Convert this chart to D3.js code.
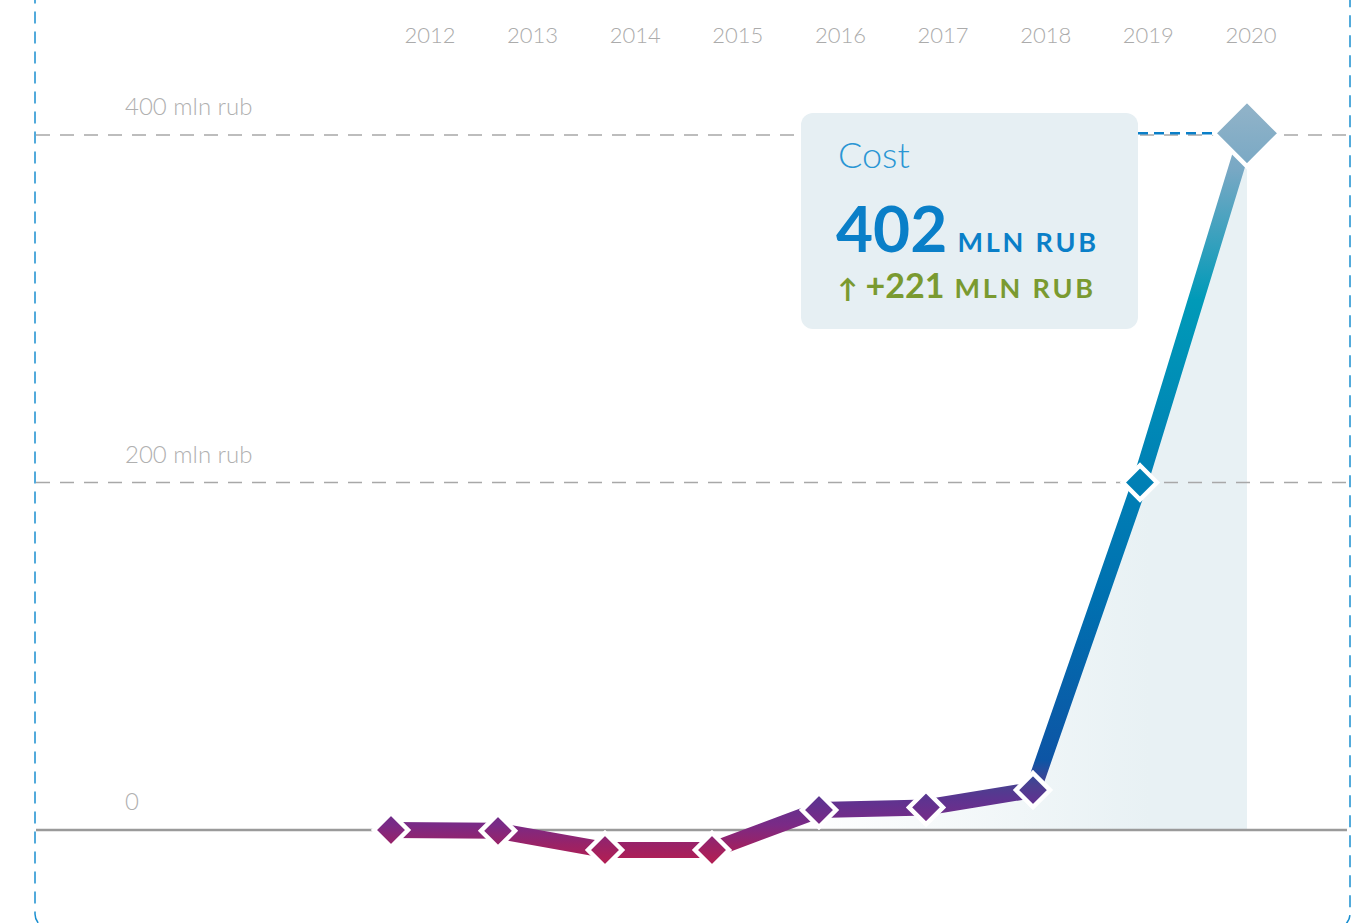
<!DOCTYPE html>
<html>
<head>
<meta charset="utf-8">
<script src="https://cdn.jsdelivr.net/npm/d3@7"></script>
<style>
  html, body { margin: 0; padding: 0; background: #ffffff; }
  svg { display: block; font-family: Lato, "Open Sans", sans-serif; }
</style>
</head>
<body>
<div id="chart"></div>
<script>
// values, mln rub
const years = [2012, 2013, 2014, 2015, 2016, 2017, 2018, 2019, 2020];
const costs = [0, -0.5, -11.5, -11.5, 11.5, 13, 23, 200, 401];
const yTicks = [0, 200, 400];
const yTickLabels = ["0", "200 mln rub", "400 mln rub"];
const tipTitle = "Cost";
const tipValue = "402";
const tipDelta = "+221";
const tipUnit = "MLN RUB";

const W = 1353, H = 923;

const svg = d3.select("#chart").append("svg")
    .attr("width", W)
    .attr("height", H);

const defs = svg.append("defs");

// scales
const x = d3.scaleLinear().domain([2012, 2020]).range([391, 1247]);
const xLabel = d3.scalePoint().domain(years).range([430, 1251]);
const y = d3.scaleLinear().domain([0, 400]).range([830, 135]);

// vertical gradient used by line + markers
const lineGrad = defs.append("linearGradient")
    .attr("id", "lineGrad")
    .attr("gradientUnits", "userSpaceOnUse")
    .attr("x1", 0).attr("x2", 0)
    .attr("y1", 860).attr("y2", 110);
[
    [0, "#b01f55"], [0.02, "#9a2266"], [0.047, "#7a2a86"], [0.08, "#5e3390"],
    [0.1, "#4a4090"], [0.133, "#0d55a5"], [0.347, "#0070b0"], [0.507, "#0080b5"],
    [0.747, "#009ab8"], [0.92, "#78a8c4"], [1, "#8fb2c8"]
].forEach(s => lineGrad.append("stop").attr("offset", s[0]).attr("stop-color", s[1]));

// horizontal fade for the area
const areaGrad = defs.append("linearGradient")
    .attr("id", "areaGrad")
    .attr("gradientUnits", "userSpaceOnUse")
    .attr("x1", 780).attr("x2", 1150)
    .attr("y1", 0).attr("y2", 0);
areaGrad.append("stop").attr("offset", 0).attr("stop-color", "#e8f1f4").attr("stop-opacity", 0);
areaGrad.append("stop").attr("offset", 1).attr("stop-color", "#e8f1f4").attr("stop-opacity", 1);

const data = years.map((yr, i) => ({year: yr, value: costs[i]}));

// outer frame (blue dashed, rounded bottom corners)
svg.append("rect")
    .attr("x", 35).attr("y", -30)
    .attr("width", 1315).attr("height", 958)
    .attr("rx", 14)
    .attr("fill", "none")
    .attr("stroke", "#1a8fd0")
    .attr("stroke-width", 1.5)
    .attr("stroke-dasharray", "12 8");

// area under the line
const area = d3.area()
    .x(d => x(d.year))
    .y0(y(0))
    .y1(d => y(d.value));
svg.append("path")
    .datum(data.filter(d => d.value >= 0 && d.year >= 2016))
    .attr("d", area)
    .attr("fill", "url(#areaGrad)");

// grid lines
svg.append("g").selectAll("line")
    .data(yTicks.filter(t => t !== 0))
    .join("line")
    .attr("x1", 36).attr("x2", 1349)
    .attr("y1", d => y(d)).attr("y2", d => y(d))
    .attr("stroke", "#a8a8a8")
    .attr("stroke-width", 1.5)
    .attr("stroke-dasharray", "14 10");

svg.append("line")
    .attr("x1", 36).attr("x2", 1347)
    .attr("y1", y(0)).attr("y2", y(0))
    .attr("stroke", "#9a9a9a")
    .attr("stroke-width", 2.5);

// y labels
svg.append("g").selectAll("text")
    .data(yTicks)
    .join("text")
    .attr("x", 125)
    .attr("y", d => y(d) - 20)
    .attr("font-size", 24)
    .attr("font-weight", 300)
    .attr("fill", "#b0b0b0")
    .text((d, i) => yTickLabels[i]);

// year labels
svg.append("g").selectAll("text")
    .data(years)
    .join("text")
    .attr("x", d => xLabel(d))
    .attr("y", 43)
    .attr("text-anchor", "middle")
    .attr("font-size", 22)
    .attr("font-weight", 300)
    .attr("fill", "#ababab")
    .text(d => d);

// line
const line = d3.line()
    .x(d => x(d.year))
    .y(d => y(d.value));
svg.append("path")
    .datum(data)
    .attr("d", line)
    .attr("fill", "none")
    .attr("stroke", "url(#lineGrad)")
    .attr("stroke-width", 16)
    .attr("stroke-linejoin", "miter");

// diamond markers, drawn in absolute coords so the gradient lines up
const last = data[data.length - 1];
const diamond = (cx, cy, r) => `M${cx},${cy - r}L${cx + r},${cy}L${cx},${cy + r}L${cx - r},${cy}Z`;
svg.append("g").selectAll("path")
    .data(data)
    .join("path")
    .attr("d", d => diamond(x(d.year), y(d.value), d === last ? 33 : 17))
    .attr("fill", "url(#lineGrad)")
    .attr("stroke", "#ffffff")
    .attr("stroke-width", 4.5)
    .attr("stroke-linejoin", "miter");

// connector from tooltip to last point
svg.append("line")
    .attr("x1", 1138).attr("x2", x(last.year) - 35)
    .attr("y1", y(last.value)).attr("y2", y(last.value))
    .attr("stroke", "#0a7fc8")
    .attr("stroke-width", 2.5)
    .attr("stroke-dasharray", "10 6");

// tooltip
const tip = svg.append("g").attr("transform", "translate(801,113)");

tip.append("rect")
    .attr("width", 337).attr("height", 216)
    .attr("rx", 12)
    .attr("fill", "#e6eff3");

tip.append("text")
    .attr("x", 37).attr("y", 55)
    .attr("font-size", 36)
    .attr("font-weight", 300)
    .attr("fill", "#2a96d4")
    .text(tipTitle);

const valueText = tip.append("text")
    .attr("x", 35).attr("y", 139)
    .attr("fill", "#0a7fc8")
    .attr("font-weight", 700);
valueText.append("tspan").attr("font-size", 64).text(tipValue);
valueText.append("tspan").attr("font-size", 27).attr("dx", 10).attr("letter-spacing", 2.8).text(tipUnit);

const deltaText = tip.append("text")
    .attr("x", 37).attr("y", 185)
    .attr("fill", "#7a9a30")
    .attr("font-weight", 700);
deltaText.append("tspan").attr("font-size", 26).attr("font-weight", 900).text("↑");
deltaText.append("tspan").attr("font-size", 34).attr("dx", 8).text(tipDelta);
deltaText.append("tspan").attr("font-size", 27).attr("dx", 10).attr("letter-spacing", 2.8).text(tipUnit);
</script>
</body>
</html>
